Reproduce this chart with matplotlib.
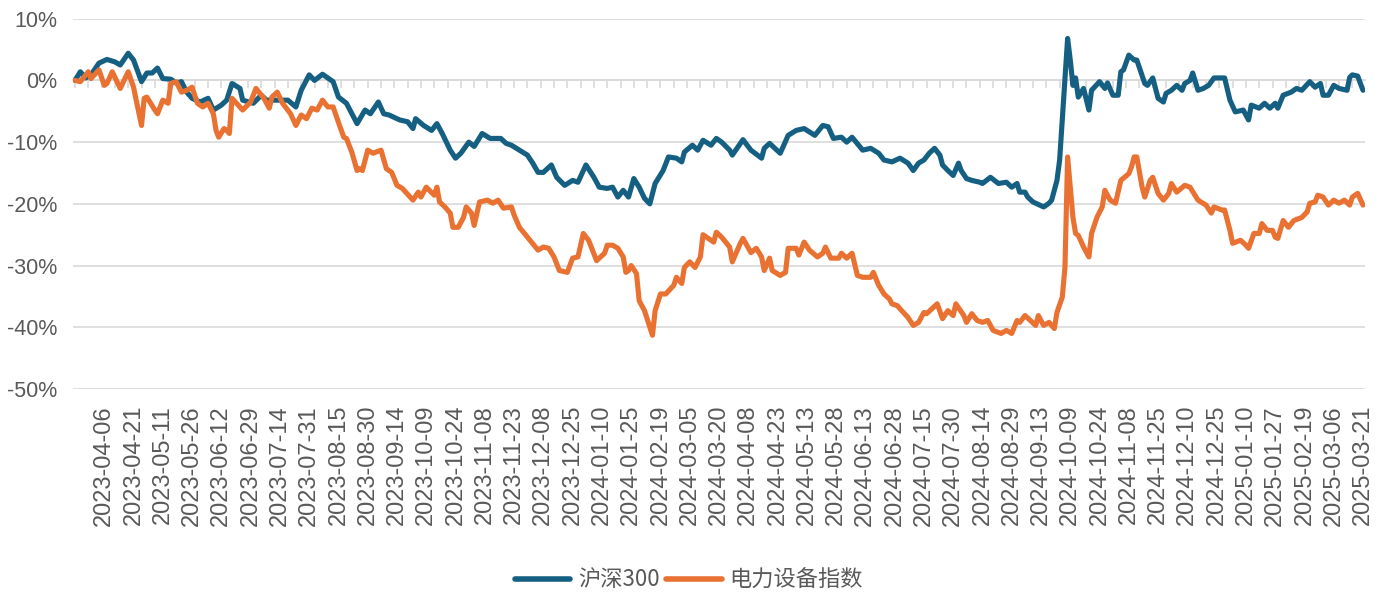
import matplotlib
matplotlib.use("Agg")
import matplotlib.pyplot as plt
from matplotlib.ticker import FixedLocator, FuncFormatter

# ---------------- data (trading-day index, % change) ----------------
hs300_idx = [0,2,4,6,9,12,15,17,20,22,25,27,29,31,33,36,38,40,42,44,47,50,52,55,57,59,62,63,67,70,72,76,80,83,85,88,90,93,97,99,
             102,105,106,109,111,114,116,118,122,125,127,128,131,134,136,138,141,143,145,148,150,153,156,160,162,164,167,170,172,174,
             176,179,181,184,187,189,192,195,197,200,202,204,206,208,210,212,214,216,218,221,223,226,228,229,232,234,236,239,241,243,
             246,247,251,254,258,259,261,265,268,271,274,278,281,283,285,288,290,292,296,299,302,304,307,310,313,315,317,319,321,323,
             325,326,328,330,332,333,335,337,340,341,344,347,350,352,354,355,357,358,360,364,366,367,369,370,371,372,373,374,375,376,
             377,379,381,382,385,387,388,390,392,393,394,396,398,399,402,403,405,407,409,410,412,414,416,417,419,420,422,424,426,428,
             431,432,434,436,439,441,442,445,447,449,451,452,454,457,459,461,464,466,468,469,471,473,475,478,479,480,482,484]
hs300_val = [0.0,1.4,0.4,0.9,2.8,3.4,3.0,2.5,4.4,3.3,-0.2,1.2,1.2,2.0,0.3,0.2,-0.4,-0.2,-1.9,-2.9,-3.5,-2.9,-4.8,-4.0,-3.2,-0.5,-1.3,-3.2,-3.7,-2.4,
             -3.2,-3.2,-3.2,-4.3,-1.6,0.9,0.0,1.0,-0.2,-2.7,-3.7,-6.2,-7.0,-4.8,-5.4,-3.5,-5.4,-5.6,-6.4,-6.7,-7.8,-6.2,-7.3,-8.1,-7.0,-8.6,
             -11.3,-12.6,-11.8,-10.0,-10.7,-8.6,-9.4,-9.4,-10.2,-10.5,-11.3,-12.1,-13.4,-14.9,-14.9,-13.7,-15.7,-17.0,-16.2,-16.5,-13.7,-15.7,
             -17.3,-17.5,-17.3,-18.9,-17.8,-18.9,-15.9,-17.3,-19.1,-20.0,-16.7,-14.6,-12.4,-12.6,-13.2,-11.6,-10.5,-11.3,-9.7,-10.5,-9.4,-10.0,
             -11.3,-12.1,-9.6,-11.3,-12.6,-11.0,-10.2,-11.8,-8.9,-8.1,-7.8,-8.9,-7.3,-7.5,-9.4,-9.2,-10.0,-9.2,-11.3,-11.0,-11.8,-12.9,-13.2,
             -12.6,-13.4,-14.6,-13.4,-12.9,-11.8,-11.0,-12.1,-13.7,-14.6,-15.4,-13.4,-14.6,-15.9,-16.2,-16.5,-16.7,-15.7,-16.7,-16.5,-17.3,
             -16.7,-18.1,-18.1,-18.9,-19.7,-20.5,-19.9,-19.4,-16.2,-12.9,-6.4,0.0,6.8,3.3,-0.8,0.4,-2.7,-1.3,-4.8,-1.6,-0.2,-1.3,-0.4,-2.4,
             -2.4,1.4,1.7,4.1,3.3,3.3,-0.5,-0.8,0.4,-2.9,-3.5,-2.1,-1.6,-0.8,-1.6,-0.5,0.0,1.2,-1.6,-1.3,-0.8,0.4,0.4,0.4,-3.2,-5.1,-4.8,
             -6.4,-4.0,-4.5,-3.7,-4.5,-3.7,-4.5,-2.4,-1.9,-1.3,-1.6,-0.2,-1.1,-0.5,-2.4,-2.4,-0.8,-1.3,-1.6,0.5,0.9,0.7,-1.6]

power_idx = [0,2,5,6,9,11,12,14,17,20,22,23,25,26,27,30,31,33,35,36,38,40,42,44,46,48,50,52,53,54,56,57,58,59,63,66,68,71,73,74,
             76,78,81,83,85,87,89,91,93,95,97,99,101,102,104,106,107,108,110,112,115,117,119,121,123,127,129,130,132,135,136,137,139,141,
             142,144,146,147,149,150,152,155,157,159,161,164,165,167,171,174,176,178,180,182,185,187,189,191,193,196,199,200,202,204,
             206,207,208,209,211,212,214,217,218,220,222,225,226,228,229,231,233,235,236,240,241,243,246,247,250,251,254,256,258,259,
             261,262,265,267,268,271,272,274,276,279,281,282,284,287,288,290,292,294,296,299,300,302,304,306,307,309,310,313,315,317,
             319,320,322,324,326,328,330,331,334,335,337,339,341,343,345,348,350,352,354,355,357,359,361,362,364,366,368,369,371,372,
             373,374,375,376,377,379,381,382,384,386,387,389,391,393,396,397,398,399,401,402,404,405,407,409,411,412,414,417,419,422,
             425,427,428,431,432,434,435,438,440,441,443,445,446,448,450,451,452,454,456,458,461,463,464,466,467,469,471,473,475,477,
             479,480,482,484]
power_val = [0.0,-0.2,1.4,0.3,1.7,-0.8,-0.5,1.4,-1.3,1.4,-1.1,-3.2,-7.3,-2.9,-2.7,-4.8,-5.4,-3.2,-3.7,-0.5,-0.2,-1.9,-1.6,-1.1,-3.7,-4.3,
             -3.7,-5.4,-8.1,-9.2,-7.8,-8.1,-8.6,-2.9,-4.8,-3.5,-1.3,-2.9,-4.5,-2.7,-1.9,-3.7,-5.4,-7.3,-5.6,-6.2,-4.5,-4.8,-3.2,-4.3,-4.3,
             -6.8,-9.2,-9.4,-11.6,-14.6,-14.3,-14.6,-11.3,-11.8,-11.3,-14.3,-14.9,-17.0,-17.5,-19.4,-18.1,-18.9,-17.3,-18.6,-17.3,-19.7,
             -20.5,-21.5,-23.8,-23.8,-22.2,-20.5,-21.5,-23.5,-19.7,-19.4,-19.9,-19.4,-20.7,-20.5,-21.8,-23.8,-25.9,-27.5,-27.0,-27.2,-28.6,
             -30.8,-31.1,-28.8,-28.6,-24.8,-25.9,-29.2,-28.0,-26.7,-26.7,-27.2,-28.6,-31.1,-30.8,-30.0,-31.3,-35.7,-37.3,-41.3,-37.3,-34.6,
             -34.6,-33.2,-31.9,-32.9,-30.3,-29.4,-30.3,-28.6,-25.0,-26.2,-24.6,-25.4,-27.0,-29.4,-26.4,-25.6,-27.9,-27.2,-28.6,-30.8,-28.8,
             -30.8,-31.6,-31.1,-27.2,-27.2,-28.3,-26.2,-27.5,-28.6,-28.0,-27.0,-28.8,-28.8,-28.0,-28.8,-28.0,-31.6,-31.9,-31.9,-31.1,-33.2,
             -34.6,-35.4,-36.2,-36.5,-37.0,-38.4,-39.7,-39.2,-37.6,-37.8,-37.0,-36.2,-38.6,-37.3,-38.1,-36.2,-38.1,-39.2,-37.8,-38.9,-39.2,
             -38.9,-40.5,-41.0,-40.5,-41.0,-38.9,-39.2,-38.1,-38.9,-39.7,-38.1,-39.7,-39.2,-40.2,-37.6,-35.1,-30.3,-12.4,-17.3,-22.2,-24.8,
             -25.1,-27.0,-28.6,-24.8,-22.2,-20.5,-17.8,-19.4,-19.9,-16.2,-15.1,-14.0,-12.4,-12.4,-17.3,-18.9,-16.2,-15.7,-18.3,-19.4,-18.3,
             -16.7,-18.1,-17.0,-17.3,-19.4,-20.2,-21.5,-20.5,-21.0,-21.0,-24.3,-26.4,-25.9,-26.7,-27.2,-24.8,-24.8,-23.2,-24.3,-24.3,-25.4,
             -25.6,-22.7,-23.8,-22.7,-22.2,-21.3,-19.9,-19.7,-18.6,-18.9,-20.2,-19.4,-19.9,-19.4,-20.2,-18.9,-18.3,-20.2]

date_labels = ["2023-04-06","2023-04-21","2023-05-11","2023-05-26","2023-06-12","2023-06-29","2023-07-14","2023-07-31",
               "2023-08-15","2023-08-30","2023-09-14","2023-10-09","2023-10-24","2023-11-08","2023-11-23","2023-12-08",
               "2023-12-25","2024-01-10","2024-01-25","2024-02-19","2024-03-05","2024-03-20","2024-04-08","2024-04-23",
               "2024-05-13","2024-05-28","2024-06-13","2024-06-28","2024-07-15","2024-07-30","2024-08-14","2024-08-29",
               "2024-09-13","2024-10-09","2024-10-24","2024-11-08","2024-11-25","2024-12-10","2024-12-25","2025-01-10",
               "2025-01-27","2025-02-19","2025-03-06","2025-03-21"]
label_idx = [11 + 11 * k for k in range(len(date_labels))]
n_days = 485
y_ticks = [-50, -40, -30, -20, -10, 0, 10]
series_names = ["沪深300", "电力设备指数"]

# ---------------- style ----------------
BLUE = "#156082"
ORANGE = "#E97132"
GRID = "#D9D9D9"
TXT = "#595959"
LATIN = ["Liberation Sans", "DejaVu Sans"]
CJK = ["Noto Sans CJK SC", "DejaVu Sans"]

W, H = 1386, 596
fig = plt.figure(figsize=(W / 100, H / 100), dpi=100)
left, right, top, bottom = 73, 1365, 18.7, 389
ax = fig.add_axes([left / W, 1 - bottom / H, (right - left) / W, (bottom - top) / H])

ax.set_ylim(-50, 10)
ax.set_xlim(-0.75, n_days - 1 + 0.75)
for s in ax.spines.values():
    s.set_visible(False)
ax.set_axisbelow(True)
ax.yaxis.set_major_locator(FixedLocator(y_ticks))
ax.yaxis.set_major_formatter(FuncFormatter(lambda v, p: f"{int(round(v))}%"))
ax.yaxis.grid(True, color=GRID, lw=1.2)
ax.tick_params(axis="y", length=0, pad=11, labelsize=15.5, labelcolor=TXT)
for t in ax.get_yticklabels():
    t.set_fontfamily(LATIN)

ax.set_xticks(label_idx)
ax.set_xticklabels(date_labels, rotation=90, fontsize=17, color=TXT, family=LATIN)
ax.tick_params(axis="x", length=0, pad=11.5)

# zero-line axis with small tick marks every 5 trading days
sec = ax.secondary_xaxis(50 / 60)
sec.set_alignment("bottom")
sec.set_xticks(list(range(0, n_days, 5)))
sec.tick_params(axis="x", direction="out", length=6, width=1.2, color=GRID, labelbottom=False, labeltop=False)
for s in sec.spines.values():
    s.set_color(GRID)
    s.set_linewidth(1.2)

ax.plot(hs300_idx, hs300_val, color=BLUE, lw=3.7, solid_joinstyle="round", solid_capstyle="round",
        label=series_names[0], zorder=3)
ax.plot(power_idx, power_val, color=ORANGE, lw=3.7, solid_joinstyle="round", solid_capstyle="round",
        label=series_names[1], zorder=3)

leg = fig.legend(loc="center", bbox_to_anchor=(0.497, 1 - 580 / H), ncol=2, frameon=False,
                 prop={"family": CJK, "size": 16}, handlelength=2.5, handletextpad=0.35,
                 columnspacing=0.3, labelcolor=TXT)
for l in leg.get_lines():
    l.set_linewidth(4)

fig.savefig("out.png", dpi=100)
